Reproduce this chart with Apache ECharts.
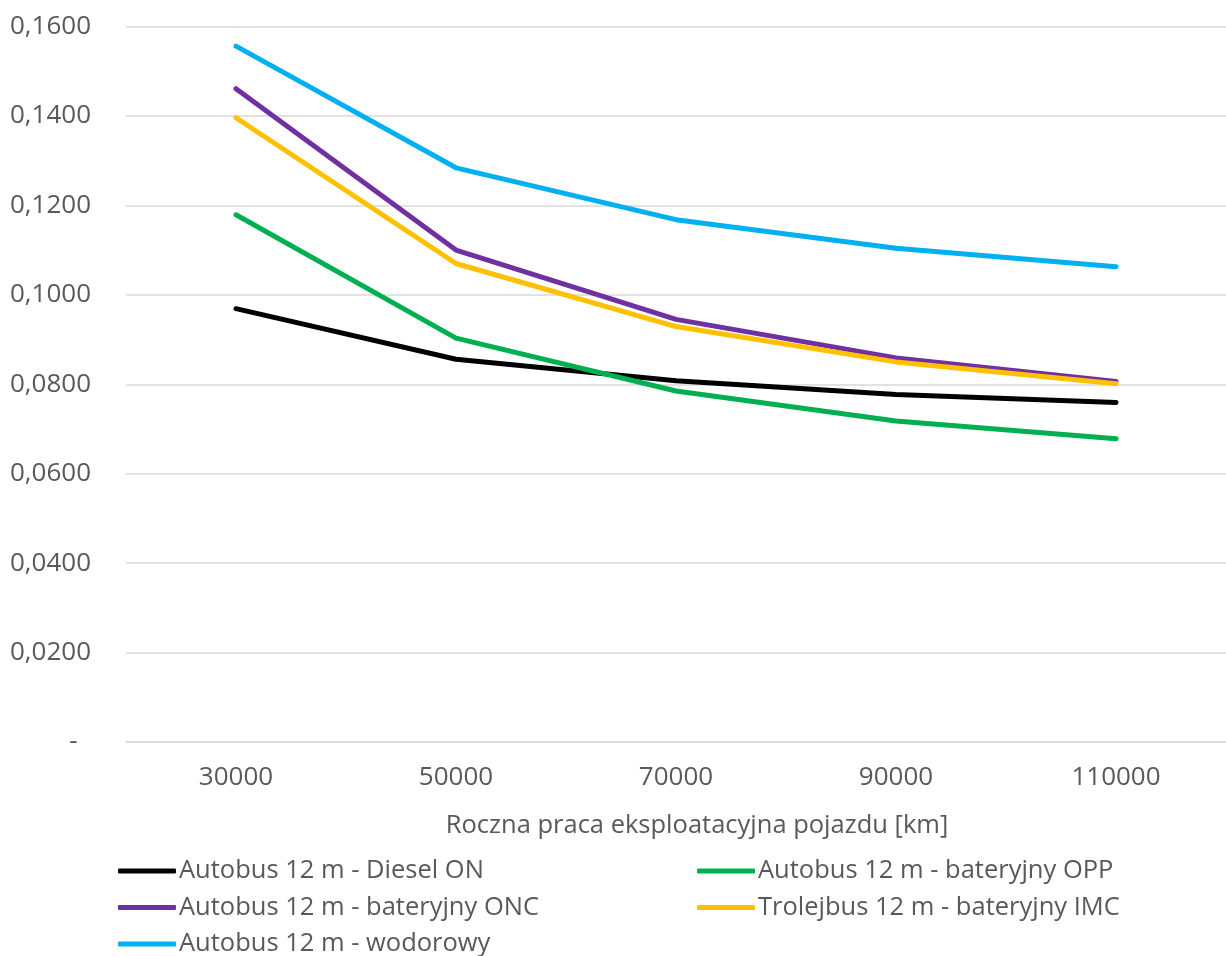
<!DOCTYPE html>
<html>
<head>
<meta charset="utf-8">
<script src="https://cdn.jsdelivr.net/npm/echarts@6/dist/echarts.min.js"></script>
<style>
  html, body { margin: 0; padding: 0; background: #fff; }
  #chart { width: 1226px; height: 956px; }
</style>
</head>
<body>
<div id="chart"></div>
<script>
// Roczna praca eksploatacyjna pojazdu [km]
const categories = ['30000', '50000', '70000', '90000', '110000'];

const dieselON     = [0.0969, 0.0856, 0.0808, 0.0777, 0.0759];
const bateryjnyOPP = [0.1179, 0.0903, 0.0785, 0.0718, 0.0678];
const bateryjnyONC = [0.1461, 0.1100, 0.0945, 0.0859, 0.0806];
const trolejbusIMC = [0.1396, 0.1070, 0.0929, 0.0850, 0.0801];
const wodorowy     = [0.1556, 0.1284, 0.1168, 0.1104, 0.1063];

const seriesNames = [
  'Autobus 12 m - Diesel ON',
  'Autobus 12 m - bateryjny OPP',
  'Autobus 12 m - bateryjny ONC',
  'Trolejbus 12 m - bateryjny IMC',
  'Autobus 12 m - wodorowy'
];
const seriesData = [dieselON, bateryjnyOPP, bateryjnyONC, trolejbusIMC, wodorowy];
const seriesColors = ['#000000', '#00b050', '#7030a0', '#ffc000', '#00b0f0'];

const textColor = '#595959';
const fontFamily = '"Open Sans", "Noto Sans", sans-serif';

const chart = echarts.init(document.getElementById('chart'), null, { renderer: 'canvas' });

// Legend laid out in two columns; one legend box per entry so nothing wraps.
const legendCols = [118, 697, 118, 697, 118];
const legendRows = [858, 858, 894.5, 894.5, 931];
const legends = seriesNames.map(function (name, i) {
  return {
    left: legendCols[i],
    top: legendRows[i],
    orient: 'horizontal',
    icon: 'roundRect',
    itemWidth: 58,
    itemHeight: 5,
    padding: 0,
    data: [name],
    textStyle: { color: textColor, fontSize: 25.5, fontFamily: fontFamily, padding: [0, 0, 0, -2] }
  };
});

chart.setOption({
  animation: false,
  backgroundColor: '#ffffff',
  grid: { left: 126, right: 0, top: 26.5, bottom: 214, containLabel: false },
  legend: legends,
  xAxis: {
    type: 'category',
    data: categories,
    boundaryGap: true,
    name: 'Roczna praca eksploatacyjna pojazdu [km]',
    nameLocation: 'middle',
    nameGap: 71,
    nameTextStyle: { color: textColor, fontSize: 25.5, fontFamily: fontFamily, padding: [0, 0, 0, 42] },
    axisLine: { show: true, lineStyle: { color: '#d9d9d9', width: 1.5 } },
    axisTick: { show: false },
    axisLabel: { color: textColor, fontSize: 26, fontFamily: fontFamily, margin: 23 }
  },
  yAxis: {
    type: 'value',
    min: 0,
    max: 0.16,
    interval: 0.02,
    axisLine: { show: false },
    axisTick: { show: false },
    splitLine: { lineStyle: { color: '#d9d9d9', width: 1.5 } },
    axisLabel: {
      color: textColor,
      fontSize: 26,
      fontFamily: fontFamily,
      margin: 35,
      formatter: function (v) {
        if (Math.abs(v) < 1e-9) return '-  ';
        return v.toFixed(4).replace('.', ',');
      }
    }
  },
  series: seriesNames.map(function (name, i) {
    return {
      name: name,
      type: 'line',
      data: seriesData[i],
      symbol: 'none',
      smooth: false,
      z: 2 + i,
      lineStyle: { color: seriesColors[i], width: 5, cap: 'round', join: 'round' },
      itemStyle: { color: seriesColors[i] }
    };
  })
});
</script>
</body>
</html>
